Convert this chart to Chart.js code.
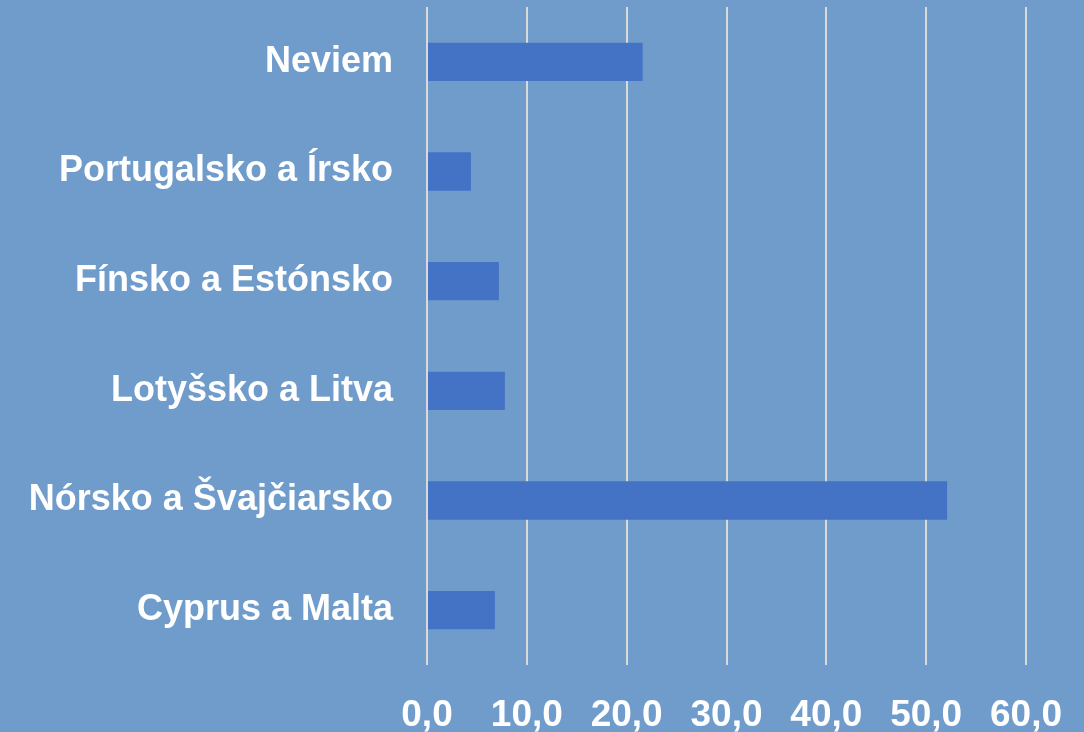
<!DOCTYPE html>
<html>
<head>
<meta charset="utf-8">
<script src="https://cdn.jsdelivr.net/npm/chart.js@4/dist/chart.umd.min.js"></script>
<style>
  html, body { margin: 0; padding: 0; background: #709ccb; }
  #wrap { width: 1084px; height: 732px; }
</style>
</head>
<body>
<div id="wrap"><canvas id="chart" width="1084" height="732"></canvas></div>
<script>
const categories = ["Neviem", "Portugalsko a Írsko", "Fínsko a Estónsko", "Lotyšsko a Litva", "Nórsko a Švajčiarsko", "Cyprus a Malta"];
const values = [21.6, 4.4, 7.2, 7.8, 52.1, 6.8];
const xMin = 0;
const xMax = 60;
const xStep = 10;

const family = "'Liberation Sans', Arial, sans-serif";

new Chart(document.getElementById("chart"), {
    type: "bar",
    data: {
        labels: categories,
        datasets: [{
            data: values,
            backgroundColor: "#4472c4",
            borderWidth: 0,
            categoryPercentage: 1,
            barPercentage: 0.35
        }]
    },
    options: {
        indexAxis: "y",
        responsive: false,
        animation: false,
        layout: { padding: { top: 7, right: 58, left: 0, bottom: 0 } },
        plugins: { legend: { display: false }, tooltip: { enabled: false } },
        scales: {
            x: {
                min: xMin,
                max: xMax,
                ticks: {
                    stepSize: xStep,
                    color: "#ffffff",
                    font: { family: family, size: 37, weight: "bold" },
                    padding: 29,
                    maxRotation: 0,
                    callback: v => v.toFixed(1).replace(".", ",")
                },
                grid: { color: "#d9d9d9", lineWidth: 2, drawTicks: false },
                border: { display: false },
                afterFit: s => { s.height = 67; s.paddingLeft = 0; s.paddingRight = 0; }
            },
            y: {
                ticks: { color: "#ffffff", font: { family: family, size: 36, weight: "bold" }, padding: 34, lineHeight: 1.2 },
                grid: { display: false, drawTicks: false },
                border: { display: false },
                afterFit: s => { s.width = 427; s.paddingTop = 0; s.paddingBottom = 0; }
            }
        }
    }
});
</script>
</body>
</html>
